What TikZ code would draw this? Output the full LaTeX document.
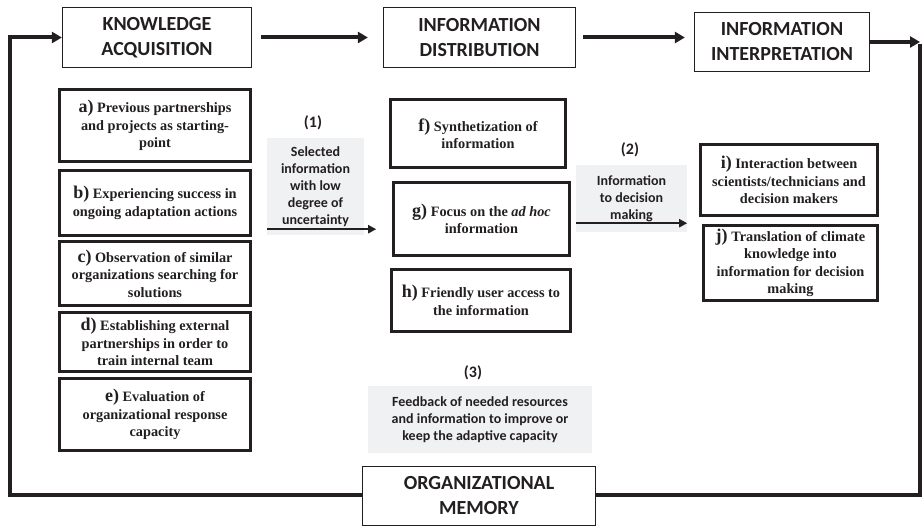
\documentclass[tikz,border=0pt]{standalone}
\usepackage{fontspec}
\setmainfont{Liberation Serif}
\newfontfamily\headfont{Carlito}
\usetikzlibrary{arrows.meta}
\definecolor{ink}{HTML}{231F20}
\definecolor{notegray}{HTML}{F0F1F3}
\newcommand\itemlabel[1]{{\fontsize{18}{18}\selectfont #1)}}
\begin{document}
\begin{tikzpicture}[x=1pt, y=-1pt,
  stage/.style = {shape=rectangle, draw=ink, line width=1.3pt, fill=white,
    text=ink, align=center, inner sep=0pt,
    font=\headfont\bfseries\fontsize{20}{25}\selectfont},
  item/.style = {shape=rectangle, draw=ink, line width=3pt, fill=white,
    text=ink, align=center, inner sep=0pt, minimum width=191pt,
    font=\bfseries\fontsize{14.3}{17.5}\selectfont},
  note/.style = {shape=rectangle, fill=notegray, text=ink, align=center,
    inner sep=0pt, font=\headfont\bfseries\fontsize{14}{17}\selectfont},
  tag/.style = {text=ink, inner sep=0pt,
    font=\headfont\bfseries\fontsize{16}{16}\selectfont},
  flow/.style = {draw=ink, line width=4pt, line join=miter,
    -{Triangle[length=10pt,width=11pt]}},
  link/.style = {draw=ink, line width=2.5pt, -{Triangle[length=8pt,width=8pt]}}
  ]
  \useasboundingbox (0,0) rectangle (923,527);

  % stages of the cycle
  \node[stage, minimum width=189pt, minimum height=60pt] (ka) at (157,37.5) {KNOWLEDGE\\ACQUISITION};
  \node[stage, minimum width=192pt, minimum height=60pt] (id) at (479.5,37.5) {INFORMATION\\DISTRIBUTION};
  \node[stage, minimum width=175pt, minimum height=59pt] (ii) at (782,42) {INFORMATION\\INTERPRETATION};

  % knowledge acquisition
  \node[item, minimum height=72pt] (a) at (155,125.5) {\itemlabel{a} Previous partnerships\\and projects as starting-\\point};
  \node[item, minimum height=65pt] (b) at (155,203) {\itemlabel{b} Experiencing success in\\ongoing adaptation actions};
  \node[item, minimum height=64pt] (c) at (155,273.5) {\itemlabel{c} Observation of similar\\organizations searching for\\solutions};
  \node[item, minimum height=59pt] (d) at (155,342) {\itemlabel{d} Establishing external\\partnerships in order to\\train internal team};
  \node[item, minimum height=72pt] (e) at (155,414.5) {\itemlabel{e} Evaluation of\\organizational response\\capacity};

  % information distribution
  \node[item, minimum width=175pt, minimum height=68pt] (f) at (478,133.5) {\itemlabel{f} Synthetization of\\information};
  \node[item, minimum width=176pt, minimum height=73pt] (g) at (481.5,219) {\itemlabel{g} Focus on the \textit{ad hoc}\\information};
  \node[item, minimum width=179pt, minimum height=62pt] (h) at (481,300.5) {\itemlabel{h} Friendly user access to\\the information};

  % information interpretation
  \node[item, minimum width=177pt, minimum height=71pt] (i) at (789,180) {\itemlabel{i} Interaction between\\scientists/technicians and\\decision makers};
  \node[item, minimum width=174pt, minimum height=75pt] (j) at (790.5,263) {\itemlabel{j} Translation of climate\\knowledge into\\information for decision\\making};

  % flows between stages
  \node[tag] (t1) at (313,123) {(1)};
  \node[note, minimum width=97pt, minimum height=97pt] (n1) at (315.5,186.5) {Selected\\information\\with low\\degree of\\uncertainty};
  \node[tag] (t2) at (630,150) {(2)};
  \node[note, minimum width=111pt, minimum height=67pt] (n2) at (631.5,198.5) {Information\\to decision\\making};
  \node[tag] (t3) at (473,373) {(3)};
  \node[note, minimum width=224pt, minimum height=67pt] (n3) at (480,419.5) {Feedback of needed resources\\and information to improve or\\keep the adaptive capacity};

  \draw[flow, shorten <=9pt, shorten >=15pt] (ka.east) -- (ka.east -| id.west);
  \draw[flow, shorten <=7pt, shorten >=9pt] (id.east) -- (id.east -| ii.west);
  \draw[link] ([yshift=6pt]n1.south west) -- ([yshift=6pt,xshift=12pt]n1.south east);
  \draw[link] ([yshift=9pt]n2.south west) -- ([yshift=9pt]n2.south east);

  % feedback loop through memory
  \coordinate (ne) at (920,42);
  \coordinate (sw) at (10,495);
  \draw[flow] (ii.east) -- (ne);
  \draw[flow] ([yshift=-2pt]ne) |- (sw) |- (ka.west);
  \node[stage, minimum width=233pt, minimum height=59pt] (om) at (479,496) {ORGANIZATIONAL\\MEMORY};
\end{tikzpicture}
\end{document}
